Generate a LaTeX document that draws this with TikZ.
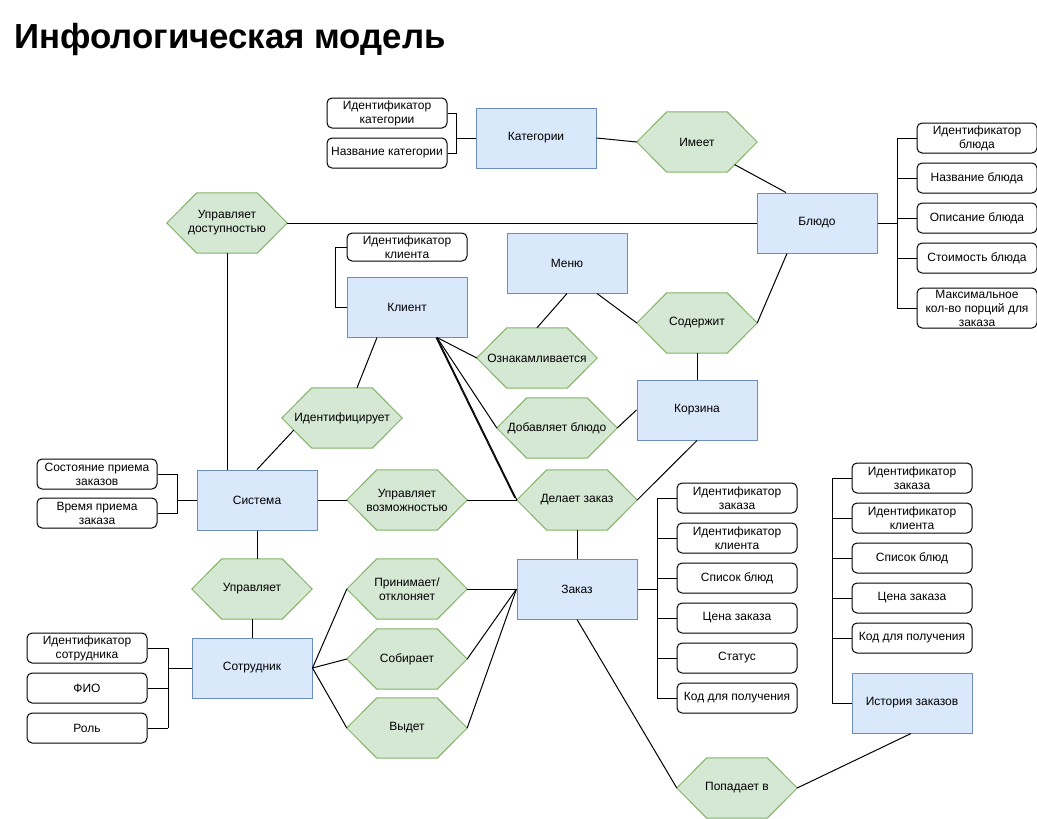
\documentclass[tikz,border=0pt]{standalone}
\usepackage{fontspec}
\setmainfont{Liberation Sans}
\usetikzlibrary{backgrounds,calc}
\definecolor{entfill}{HTML}{DAE8FC}
\definecolor{entdraw}{HTML}{6C8EBF}
\definecolor{hexfill}{HTML}{D5E8D4}
\definecolor{hexdraw}{HTML}{82B366}
\begin{document}
\begin{tikzpicture}[x=1pt,y=-1pt,
  every node/.style={font=\fontsize{12pt}{14pt}\selectfont, align=center, inner sep=0pt},
  entity/.style={draw=entdraw, fill=entfill, line width=1pt, minimum width=120pt, minimum height=60pt},
  hexnode/.style={minimum width=120pt, minimum height=60pt},
  hexshape/.style={draw=hexdraw, fill=hexfill, line width=1pt, line join=miter},
  attr/.style={draw=black, fill=white, line width=1pt, rounded corners=5pt, minimum width=120pt, minimum height=30pt},
  conn/.style={draw=black, line width=1pt}
]
\useasboundingbox (0,0) rectangle (1037,819);
\node[anchor=base west, font=\fontsize{34.8pt}{40pt}\selectfont\bfseries] (title) at (14,48) {Инфологическая модель};

% entities
\node[entity] (kat) at (536,138) {Категории};
\node[entity] (bludo) at (817,223) {Блюдо};
\node[entity] (menu) at (567,263) {Меню};
\node[entity] (klient) at (407,307) {Клиент};
\node[entity] (korz) at (697,410) {Корзина};
\node[entity] (sist) at (257,500) {Система};
\node[entity] (zakaz) at (577,589) {Заказ};
\node[entity] (sotr) at (252,668) {Сотрудник};
\node[entity] (ist) at (912,703) {История заказов};

% relationships
\node[hexnode] (imeet) at (697,142) {Имеет};
\node[hexnode] (upd) at (227,223) {Управляет\\доступностью};
\node[hexnode] (soderzh) at (697,323) {Содержит};
\node[hexnode] (oznak) at (537,358) {Ознакамливается};
\node[hexnode] (dobav) at (557,428) {Добавляет блюдо};
\node[hexnode] (ident) at (342,418) {Идентифицирует};
\node[hexnode] (upv) at (407,500) {Управляет\\возможностью};
\node[hexnode] (delaet) at (577,500) {Делает заказ};
\node[hexnode] (uprav) at (252,589) {Управляет};
\node[hexnode] (prin) at (407,589) {Принимает/\\отклоняет};
\node[hexnode] (sobir) at (407,659) {Собирает};
\node[hexnode] (vydet) at (407,728) {Выдет};
\node[hexnode] (popad) at (737,788) {Попадает в};

\begin{scope}[on background layer]
\foreach \n in {imeet,upd,soderzh,oznak,dobav,ident,upv,delaet,uprav,prin,sobir,vydet,popad}
  \path[hexshape] (\n.west) -- ([xshift=30pt]\n.north west) -- ([xshift=-30pt]\n.north east) -- (\n.east) -- ([xshift=-30pt]\n.south east) -- ([xshift=30pt]\n.south west) -- cycle;
\end{scope}

% attributes
\node[attr] (kid) at (387,113) {Идентификатор\\категории};
\node[attr] (kname) at (387,153) {Название категории};
\node[attr] (b1) at (977,138) {Идентификатор\\блюда};
\node[attr] (b2) at (977,178) {Название блюда};
\node[attr] (b3) at (977,218) {Описание блюда};
\node[attr] (b4) at (977,258) {Стоимость блюда};
\node[attr, minimum height=40pt] (b5) at (977,308) {Максимальное\\кол-во порций для\\заказа};
\node[attr, minimum height=28pt] (clid) at (407,247) {Идентификатор\\клиента};
\node[attr] (s1) at (97,474) {Состояние приема\\заказов};
\node[attr] (s2) at (97,513) {Время приема\\заказа};
\node[attr] (e1) at (87,648) {Идентификатор\\сотрудника};
\node[attr] (e2) at (87,688) {ФИО};
\node[attr] (e3) at (87,728) {Роль};
\node[attr] (z1) at (737,498) {Идентификатор\\заказа};
\node[attr] (z2) at (737,538) {Идентификатор\\клиента};
\node[attr] (z3) at (737,578) {Список блюд};
\node[attr] (z4) at (737,618) {Цена заказа};
\node[attr] (z5) at (737,658) {Статус};
\node[attr] (z6) at (737,698) {Код для получения};
\node[attr] (h1) at (912,478) {Идентификатор\\заказа};
\node[attr] (h2) at (912,518) {Идентификатор\\клиента};
\node[attr] (h3) at (912,558) {Список блюд};
\node[attr] (h4) at (912,598) {Цена заказа};
\node[attr] (h5) at (912,638) {Код для получения};

% attribute buses
\coordinate (kbus) at (456,138);
\draw[conn] (kat.west) -- (kbus);
\draw[conn] (kid.east) -- (kid.east -| kbus) -- (kname.east -| kbus) -- (kname.east);

\coordinate (bbus) at (897,223);
\draw[conn] (bludo.east) -- (bbus);
\draw[conn] (b1.west -| bbus) -- (b5.west -| bbus);
\foreach \n in {b1,b2,b3,b4,b5} \draw[conn] (\n.west) -- (\n.west -| bbus);

\draw[conn] (clid.west) -- ++(-11,0) |- (klient.west);

\coordinate (sbus) at (177,500);
\draw[conn] (sist.west) -- (sbus);
\draw[conn] (s1.east) -- (s1.east -| sbus) -- (s2.east -| sbus) -- (s2.east);

\coordinate (ebus) at (168,668);
\draw[conn] (sotr.west) -- (ebus);
\draw[conn] (e1.east -| ebus) -- (e3.east -| ebus);
\foreach \n in {e1,e2,e3} \draw[conn] (\n.east) -- (\n.east -| ebus);

\coordinate (zbus) at (657,589);
\draw[conn] (zakaz.east) -- (zbus);
\draw[conn] (z1.west -| zbus) -- (z6.west -| zbus);
\foreach \n in {z1,z2,z3,z4,z5,z6} \draw[conn] (\n.west) -- (\n.west -| zbus);

\coordinate (hbus) at (832,703);
\draw[conn] (ist.west) -- (hbus) -- (h1.west -| hbus);
\foreach \n in {h1,h2,h3,h4,h5} \draw[conn] (\n.west) -- (\n.west -| hbus);

% relationship connectors
\draw[conn] (kat.east) -- (imeet.west);
\draw[conn] ($(imeet.east)!0.75!([xshift=-30pt]imeet.south east)$) -- ([xshift=-31pt]bludo.north);
\draw[conn] (upd.east) -- (bludo.west);
\draw[conn] (upd.south) -- (upd.south |- sist.north);
\draw[conn] (menu.south) -- (oznak.north);
\draw[conn] ([xshift=30pt]menu.south) -- (soderzh.west);
\draw[conn] (soderzh.east) -- ([xshift=-30pt]bludo.south);
\draw[conn] (soderzh.south) -- (korz.north);
\draw[conn] ([xshift=-30pt]klient.south) -- ([xshift=15pt]ident.north);
\coordinate (kcorner) at ([xshift=30pt]klient.south);
\draw[conn] (kcorner) -- (oznak.west);
\draw[conn] (kcorner) -- (dobav.west);
\draw[conn] (kcorner) -- (delaet.west);
\draw[conn] ([xshift=-1pt]kcorner) -- ([xshift=-2pt,yshift=2pt]delaet.west);
\draw[conn] (dobav.east) -- (korz.west);
\draw[conn] (korz.south) -- (delaet.east);
\draw[conn] (sist.north) -- ($(ident.west)!0.4!([xshift=30pt]ident.south west)$);
\draw[conn] (sist.east) -- (upv.west);
\draw[conn] (upv.east) -- (delaet.west);
\draw[conn] (delaet.south) -- (zakaz.north);
\draw[conn] (sist.south) -- (sist.south |- uprav.north);
\draw[conn] (uprav.south) -- (sotr.north);
\draw[conn] (sotr.east) -- (prin.west);
\draw[conn] (sotr.east) -- (sobir.west);
\draw[conn] (sotr.east) -- (vydet.west);
\draw[conn] (prin.east) -- (zakaz.west);
\draw[conn] (sobir.east) -- (zakaz.west);
\draw[conn] (vydet.east) -- (zakaz.west);
\draw[conn] (zakaz.south) -- (popad.west);
\draw[conn] (popad.east) -- ([xshift=-1pt]ist.south);
\end{tikzpicture}
\end{document}
